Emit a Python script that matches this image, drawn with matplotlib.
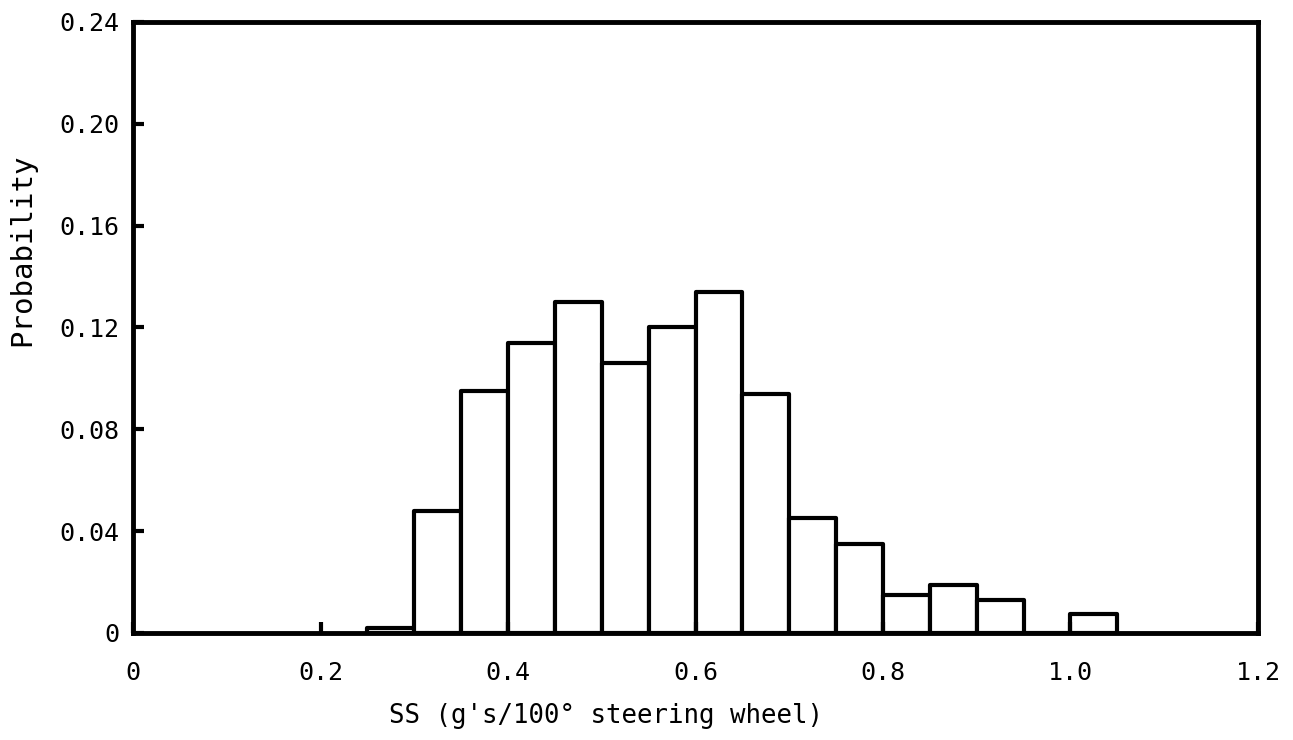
import matplotlib
matplotlib.use("Agg")
import matplotlib.pyplot as plt

# histogram of SS, bins 0.05 wide (left edges)
bin_left = [0.25, 0.30, 0.35, 0.40, 0.45, 0.50, 0.55, 0.60,
            0.65, 0.70, 0.75, 0.80, 0.85, 0.90, 0.95, 1.00]
prob = [0.002, 0.048, 0.095, 0.114, 0.130, 0.106, 0.120, 0.134,
        0.094, 0.045, 0.035, 0.015, 0.019, 0.013, 0.0, 0.0075]
bin_width = 0.05

x_ticks = [0, 0.2, 0.4, 0.6, 0.8, 1.0, 1.2]
x_labels = ["0", "0.2", "0.4", "0.6", "0.8", "1.0", "1.2"]
y_ticks = [0, 0.04, 0.08, 0.12, 0.16, 0.20, 0.24]
y_labels = ["0", "0.04", "0.08", "0.12", "0.16", "0.20", "0.24"]

plt.rcParams['font.family'] = ['DejaVu Sans Mono']

fig = plt.figure(figsize=(12.93, 7.40), dpi=100)
ax = fig.add_axes([0.1029, 0.1446, 0.870, 0.8257])

ax.bar(bin_left, prob, width=bin_width, align='edge', color='white',
       edgecolor='black', linewidth=3, joinstyle='round')

ax.set_xlim(0, 1.2)
ax.set_ylim(0, 0.24)
ax.set_xticks(x_ticks)
ax.set_xticklabels(x_labels)
ax.set_yticks(y_ticks)
ax.set_yticklabels(y_labels)
ax.tick_params(direction='in', length=8, width=3, labelsize=18)
ax.tick_params(axis='x', pad=20)
ax.tick_params(axis='y', pad=10)
for s in ax.spines.values():
    s.set_linewidth(3.5)

# axis titles sit off-centre in the original
fig.text(0.4687, 0.032, "SS (g's/100° steering wheel)", fontsize=18.5,
         ha='center', va='center')
fig.text(0.017, 0.662, "Probability", fontsize=21, rotation=90,
         ha='center', va='center')

fig.savefig("out.png", dpi=100)
